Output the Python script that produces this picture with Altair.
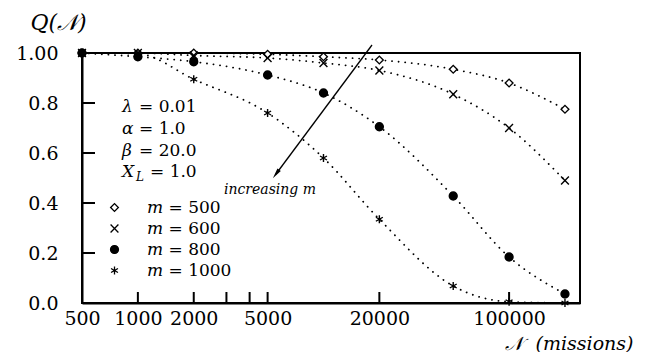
import altair as alt
import pandas as pd

# ---- data ----
missions = [500, 1000, 2000, 5000, 10000, 20000, 50000, 100000, 200000]
q_m500 = [1.0, 1.0, 1.0, 0.995, 0.985, 0.972, 0.935, 0.88, 0.775]
q_m600 = [1.0, 1.0, 0.99, 0.98, 0.96, 0.93, 0.835, 0.70, 0.49]
q_m800 = [1.0, 0.985, 0.965, 0.912, 0.84, 0.705, 0.428, 0.184, 0.036]
q_m1000 = [1.0, 0.997, 0.895, 0.76, 0.58, 0.335, 0.068, 0.005, 0.0]
series_labels = ["𝑚 = 500", "𝑚 = 600", "𝑚 = 800", "𝑚 = 1000"]

x_tick_values = [500, 1000, 2000, 3000, 4000, 5000, 20000, 100000]
x_label_values = [500, 1000, 2000, 5000, 20000, 100000]
y_tick_values = [0.0, 0.2, 0.4, 0.6, 0.8, 1.0]

param_symbols = ["λ", "α", "β", "X"]
param_values = ["= 0.01", "= 1.0", "= 20.0", "= 1.0"]
arrow_text = "increasing m"

FONT = "DejaVu Serif"

rows = []
for lab, qs in zip(series_labels, [q_m500, q_m600, q_m800, q_m1000]):
    for n, q in zip(missions, qs):
        rows.append({"N": n, "Q": q, "m": lab})
df = pd.DataFrame(rows)

xscale = alt.Scale(type="log", domain=[500, 241000], nice=False)
yscale = alt.Scale(domain=[0, 1], nice=False)

X_PATH = "M-1,-1L1,1M-1,1L1,-1"
AST_PATH = "M0,-1L0,1M-0.87,-0.5L0.87,0.5M-0.87,0.5L0.87,-0.5"


def make_legend():
    return alt.Legend(title=None, orient="none", legendX=24, legendY=144,
                      padding=0, rowPadding=0, clipHeight=21,
                      labelFontSize=17, labelOffset=24, labelFont=FONT,
                      labelColor="black", symbolStrokeWidth=1.3)


base = alt.Chart(df)

lines = base.mark_line(
    interpolate="monotone", color="black", strokeWidth=1.8,
    strokeDash=[0.1, 6.5], strokeCap="round", clip=True
).encode(
    x=alt.X("N:Q", scale=xscale,
            axis=alt.Axis(values=x_label_values, ticks=False, grid=False,
                          labelFontSize=19, labelPadding=6, labelFlush=False,
                          labelOverlap=False, format="d",
                          domainColor="black", domainWidth=2,
                          title="𝒩\u00a0\u00a0(missions)", titleFontStyle="italic",
                          titleFontWeight="normal", titleFontSize=19,
                          titleX=551, titleY=40, titleAlign="right",
                          titleBaseline="middle")),
    y=alt.Y("Q:Q", scale=yscale,
            axis=alt.Axis(values=y_tick_values, ticks=False, grid=False,
                          labelFontSize=19, labelPadding=24,
                          labelExpr="datum.value == 1 ? '1.00' : format(datum.value, '.1f')",
                          domainColor="black", domainWidth=2,
                          title="Q(𝒩)", titleAngle=0, titleFontStyle="italic",
                          titleFontWeight="normal", titleFontSize=22,
                          titleX=-52, titleY=-31, titleAlign="left",
                          titleBaseline="middle")),
    detail="m:N",
    order="N:Q",
)

points = base.mark_point(
    strokeWidth=1.4, opacity=1, fillOpacity=1, strokeOpacity=1
).encode(
    x=alt.X("N:Q", scale=xscale),
    y=alt.Y("Q:Q", scale=yscale),
    shape=alt.Shape("m:N", scale=alt.Scale(domain=series_labels,
                    range=["diamond", X_PATH, "circle", AST_PATH]),
                    legend=make_legend()),
    fill=alt.Fill("m:N", scale=alt.Scale(domain=series_labels,
                  range=["white", "black", "black", "black"]),
                  legend=make_legend()),
    stroke=alt.Stroke("m:N", scale=alt.Scale(domain=series_labels,
                      range=["black", "black", "black", "black"]),
                      legend=make_legend()),
    size=alt.Size("m:N", scale=alt.Scale(domain=series_labels,
                  range=[60, 64, 50, 50]),
                  legend=make_legend()),
)

# inward ticks
xticks = alt.Chart(pd.DataFrame({"t": x_tick_values})).mark_rule(
    color="black", strokeWidth=2
).encode(x=alt.X("t:Q", scale=xscale), y=alt.value(250), y2=alt.value(239))

yticks = alt.Chart(pd.DataFrame({"t": y_tick_values[:-1]})).mark_rule(
    color="black", strokeWidth=2
).encode(y=alt.Y("t:Q", scale=yscale), x=alt.value(0), x2=alt.value(13))

layers = [lines, xticks, yticks, points]

# parameter annotations
param_y = [54, 76, 98, 119]
for i, (sym, val) in enumerate(zip(param_symbols, param_values)):
    layers.append(
        alt.Chart(pd.DataFrame({"t": [sym]})).mark_text(
            font=FONT, fontSize=17, fontStyle="italic", align="left", baseline="middle"
        ).encode(text="t:N", x=alt.value(40), y=alt.value(param_y[i]))
    )
    layers.append(
        alt.Chart(pd.DataFrame({"t": [val]})).mark_text(
            font=FONT, fontSize=17, align="left", baseline="middle"
        ).encode(text="t:N", x=alt.value(68 if sym == "X" else 57), y=alt.value(param_y[i]))
    )
layers.append(
    alt.Chart(pd.DataFrame({"t": ["L"]})).mark_text(
        font=FONT, fontSize=12, fontStyle="italic", align="left", baseline="middle"
    ).encode(text="t:N", x=alt.value(54), y=alt.value(param_y[3] + 5))
)

# arrow
layers.append(
    alt.Chart(pd.DataFrame({"a": [0]})).mark_rule(color="black", strokeWidth=1.3).encode(
        x=alt.value(290), y=alt.value(-8), x2=alt.value(194), y2=alt.value(121))
)
layers.append(
    alt.Chart(pd.DataFrame({"a": [0]})).mark_point(
        shape="M0,1L-0.4,-1L0.4,-1Z", filled=True, color="black", opacity=1,
        size=110, angle=36.7
    ).encode(x=alt.value(194), y=alt.value(121))
)
layers.append(
    alt.Chart(pd.DataFrame({"t": [arrow_text]})).mark_text(
        font=FONT, fontSize=14, fontStyle="italic", align="center", baseline="middle"
    ).encode(text="t:N", x=alt.value(188), y=alt.value(137))
)

chart = alt.layer(*layers).properties(
    width=498, height=250, autosize="none",
    padding={"left": 74, "top": 45, "right": 59, "bottom": 49},
).configure_view(
    stroke="black", strokeWidth=2
).configure_axis(
    labelFont=FONT, titleFont=FONT, labelColor="black", titleColor="black"
)

chart.save("out.html", embed_options={"renderer": "svg", "actions": False})
